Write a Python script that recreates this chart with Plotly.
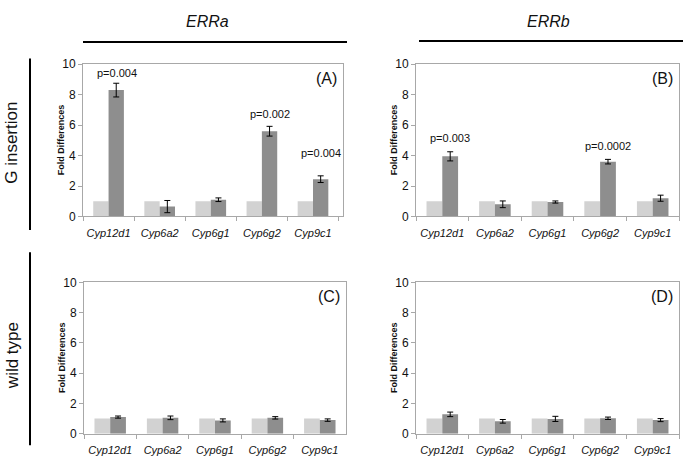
import plotly.graph_objects as go

W, H = 683, 464

genes = ["Cyp12d1", "Cyp6a2", "Cyp6g1", "Cyp6g2", "Cyp9c1"]
control = [1, 1, 1, 1, 1]

a_vals = [8.3, 0.65, 1.1, 5.6, 2.45]
a_err = [0.45, 0.4, 0.12, 0.32, 0.22]
b_vals = [3.95, 0.8, 0.95, 3.6, 1.2]
b_err = [0.3, 0.22, 0.07, 0.15, 0.2]
c_vals = [1.1, 1.05, 0.88, 1.05, 0.9]
c_err = [0.07, 0.12, 0.1, 0.08, 0.08]
d_vals = [1.28, 0.82, 0.98, 1.02, 0.9]
d_err = [0.15, 0.12, 0.17, 0.08, 0.1]

a_pvals = [("Cyp12d1", 9.4, "p=0.004"), ("Cyp6g2", 6.7, "p=0.002"), ("Cyp9c1", 4.2, "p=0.004")]
b_pvals = [("Cyp12d1", 5.15, "p=0.003"), ("Cyp6g2", 4.65, "p=0.0002")]

col_titles = ["ERRa", "ERRb"]
row_titles = ["G insertion", "wild type"]
panel_labels = ["(A)", "(B)", "(C)", "(D)"]

LIGHT = "#d2d2d2"
DARK = "#8e8e8e"
AXC = "#a8a8a8"
FONT = "Liberation Sans, Arial, sans-serif"


def px(x):
    return x / W


def py(y):
    return 1 - y / H


# pixel boxes: (left, right, top, bottom)
boxes = [(83, 343, 59, 216), (416, 679, 59, 216), (84, 346, 284, 440), (416, 679, 284, 440)]
vals = [a_vals, b_vals, c_vals, d_vals]
errs = [a_err, b_err, c_err, d_err]
pvals = [a_pvals, b_pvals, [], []]

fig = go.Figure()
annotations = []
layout = {}

for i, (box, v, e, pv, lab) in enumerate(zip(boxes, vals, errs, pvals, panel_labels)):
    n = "" if i == 0 else str(i + 1)
    xa, ya = "x" + n, "y" + n
    fig.add_trace(go.Bar(x=genes, y=control, marker=dict(color=LIGHT, line=dict(width=0)),
                         xaxis=xa, yaxis=ya, offsetgroup="c", showlegend=False))
    fig.add_trace(go.Bar(x=genes, y=v, marker=dict(color=DARK, line=dict(width=0)),
                         error_y=dict(type="data", array=e, color="black", thickness=1, width=3),
                         xaxis=xa, yaxis=ya, offsetgroup="t", showlegend=False))
    l, r, t, b = box
    layout["xaxis" + n] = dict(domain=[px(l), px(r)], anchor=ya, type="category",
                               showline=True, linecolor=AXC, linewidth=1, mirror=True,
                               ticks="outside", tickson="boundaries", ticklen=4, tickcolor=AXC,
                               tickangle=0, ticklabelstandoff=6,
                               tickfont=dict(family=FONT, size=11, color="#111", style="italic"),
                               showgrid=False, zeroline=False, fixedrange=True)
    layout["yaxis" + n] = dict(domain=[py(b), py(t)], anchor=xa, range=[0, 10], dtick=2,
                               showline=True, linecolor=AXC, linewidth=1, mirror=True,
                               ticks="outside", ticklen=4, tickcolor=AXC,
                               tickfont=dict(family=FONT, size=12, color="#111"),
                               showgrid=False, zeroline=False, fixedrange=True)
    # y axis title
    annotations.append(dict(xref="paper", yref="paper", x=px(l - 22), y=py((t + b) / 2),
                            xanchor="center", yanchor="middle",
                            text="<b>Fold Differences</b>", textangle=-90, showarrow=False,
                            font=dict(family=FONT, size=9, color="#111")))
    # panel label
    annotations.append(dict(xref="paper", yref="paper", x=px(r - 4), y=py(t + 4),
                            xanchor="right", yanchor="top", text=lab, showarrow=False,
                            font=dict(family=FONT, size=16, color="#111")))
    for g, yv, txt in pv:
        annotations.append(dict(xref=xa, yref=ya, x=g, y=yv, xshift=8, text=txt,
                                xanchor="center", yanchor="middle",
                                showarrow=False, font=dict(family=FONT, size=11, color="#111")))

# column titles and lines
shapes = []
for txt, cx, (x0, x1), ly in zip(col_titles, [207, 548], [(83, 347), (419, 683)], [36, 35]):
    annotations.append(dict(xref="paper", yref="paper", x=px(cx), y=py(15), text="<i>" + txt + "</i>",
                            xanchor="center", yanchor="middle",
                            showarrow=False, font=dict(family=FONT, size=16, color="#111")))
    shapes.append(dict(type="line", xref="paper", yref="paper", x0=px(x0), x1=px(x1),
                       y0=py(ly), y1=py(ly), line=dict(color="black", width=2)))

for txt, cy, (y0, y1) in zip(row_titles, [140, 360], [(53, 230), (253, 452)]):
    annotations.append(dict(xref="paper", yref="paper", x=px(12), y=py(cy), text=txt, textangle=-90,
                            xanchor="center", yanchor="middle",
                            showarrow=False, font=dict(family=FONT, size=17, color="#111")))
    shapes.append(dict(type="line", xref="paper", yref="paper", x0=px(30), x1=px(30),
                       y0=py(y0), y1=py(y1), line=dict(color="black", width=2)))

fig.update_layout(width=W, height=H, margin=dict(l=0, r=0, t=0, b=0),
                  paper_bgcolor="white", plot_bgcolor="white",
                  barmode="group", bargap=0.4, bargroupgap=0,
                  annotations=annotations, shapes=shapes, **layout)

fig.write_html("out.html", config={"displayModeBar": False},
               post_script="document.body.style.margin='0';document.body.style.overflow='hidden';")
